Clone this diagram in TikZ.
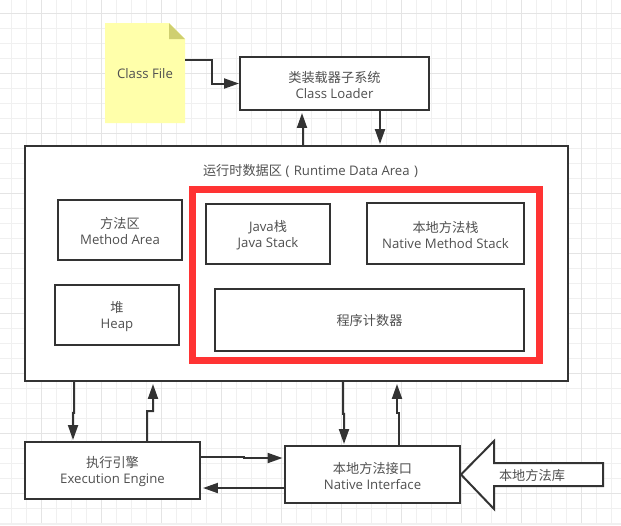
\documentclass[tikz,border=0pt]{standalone}
\usepackage{fontspec}
\setmainfont{Open Sans}
\newfontfamily\cjk{Noto Sans CJK SC}
\usetikzlibrary{calc, arrows.meta}
\newcommand{\headstrut}{\rule{0pt}{7.9pt}}
\definecolor{GridMinor}{HTML}{F0F0F0}
\definecolor{GridMajor}{HTML}{E4E4E4}
\definecolor{BoxLine}{HTML}{333333}
\definecolor{BoxText}{HTML}{505050}
\definecolor{NoteFill}{HTML}{FFFFAA}
\definecolor{NoteFold}{HTML}{CFCF70}
\definecolor{MarkRed}{HTML}{FF3333}
\tikzset{
    box/.style={
        draw=BoxLine, line width=0.04cm, fill=white, text=BoxText,
        align=center, inner sep=0pt,
        font=\fontsize{7.5pt}{9pt}\selectfont
    },
    plain text/.style={
        text=BoxText, align=center, inner sep=0pt,
        font=\fontsize{7.5pt}{9pt}\selectfont
    },
    flow/.style={
        draw=BoxLine, line width=0.04cm,
        -{Triangle[length=0.3cm, width=0.2cm]}
    }
}

\begin{document}
\begin{tikzpicture}[x=0.02cm, y=-0.02cm]

\useasboundingbox (0,0) rectangle (621,525);

% Grid of the page.
\foreach \x in {11.5,26.5,...,611.5} {
    \draw[GridMinor, line width=0.02cm] (\x,0) -- (\x,525);
}
\foreach \y in {13,28,...,523} {
    \draw[GridMinor, line width=0.02cm] (0,\y) -- (621,\y);
}
\foreach \x in {41.5,101.5,...,581.5} {
    \draw[GridMajor, line width=0.02cm] (\x,0) -- (\x,525);
}
\foreach \y in {13,73,...,493} {
    \draw[GridMajor, line width=0.02cm] (0,\y) -- (621,\y);
}
\fill[GridMinor] (0,523) rectangle (621,525);

% Note with the folded corner.
\fill[NoteFill] (105,23) -- (169,23) -- (185,39) -- (185,123) -- (105,123) -- cycle;
\fill[NoteFold] (169,23) -- (185,39) -- (169,39) -- cycle;
\node[plain text, minimum width=1.6cm, minimum height=2cm] (file) at (145,74) {Class File};

% Boxes.
\node[box, minimum width=3.78cm, minimum height=1.06cm] (loader) at (334.5,83.5)
    {\headstrut{\cjk 类装载器子系统}\\Class Loader};
\node[box, minimum width=10.86cm, minimum height=4.7cm] (runtime) at (296.5,263.5) {};
\node[plain text] (title) at (310.5,171) {{\cjk 运行时数据区} (\,\,Runtime Data Area\,\,)};
\node[box, minimum width=2.48cm, minimum height=1.2cm] (method) at (120,230)
    {\headstrut{\cjk 方法区}\\Method Area};
\node[box, minimum width=2.48cm, minimum height=1.2cm] (heap) at (117,315)
    {\headstrut{\cjk 堆}\\Heap};

% Red frame, below the boxes that it holds.
\draw[MarkRed, line width=0.14cm] (192.5,189.5) rectangle (539.5,360.5);

\node[box, minimum width=2.48cm, minimum height=1.2cm] (javastack) at (268,234)
    {\headstrut Java{\cjk 栈}\\Java Stack};
\node[box, minimum width=3.14cm, minimum height=1.22cm] (nativestack) at (445.5,233.5)
    {\headstrut{\cjk 本地方法栈}\\Native Method Stack};
\node[box, minimum width=6.18cm, minimum height=1.24cm] (counter) at (369.5,320)
    {{\cjk 程序计数器}};
\node[box, minimum width=3.5cm, minimum height=1.14cm] (engine) at (112.5,470.5)
    {\headstrut{\cjk 执行引擎}\\Execution Engine};
\node[box, minimum width=3.5cm, minimum height=1.14cm] (interface) at (372.5,474.5)
    {\headstrut{\cjk 本地方法接口}\\Native Interface};

% Hollow arrow of the native library.
\draw[draw=BoxLine, line width=0.04cm, fill=white, line join=miter]
    (interface.east) -- (494,441) -- (494,463) -- (603,463) -- (603,486) -- (494,486) -- (494,509) -- cycle;
\node[plain text] (library) at (532,475) {\cjk 本地方法库};

% Connectors between the boxes.
\draw[flow] ($(file.east)+(0,-14)$) -- ++(27,0) |- (loader.west);
\draw[flow] ($(runtime.north)+(6.5,0)$) -- ++(0,-18) -- ++(-1,0) -- ($(loader.south)+(-32.5,2)$);
\draw[flow] ($(loader.south)+(45.5,0)$) -- ($(runtime.north)+(83.5,-1)$);
\draw[flow] ($(runtime.south west)+(50,0)$) -- ++(0,31) -- ++(-1,0) -- ($(engine.north west)+(49,-1)$);
\draw[flow] ($(engine.north)+(34.5,0)$) -- ++(0,-30) -- ++(6,0) -- ($(runtime.south)+(-143.5,2)$);
\draw[flow] ($(runtime.south)+(46.5,0)$) -- ++(0,32) -- ++(1,0) -- ($(interface.north)+(-28.5,-1)$);
\draw[flow] ($(interface.north)+(26.5,0)$) -- ++(0,-32) -- ++(-2,0) -- ($(runtime.south)+(100.5,2)$);
\draw[flow] ($(engine.east)+(0,-13.5)$) -- ++(43,0) -- ++(0,1) -- ($(interface.west)+(-1.5,-16.5)$);
\draw[flow] ($(interface.west)+(0,13.5)$) -- ($(engine.east)+(2,17.5)$);

\end{tikzpicture}
\end{document}
